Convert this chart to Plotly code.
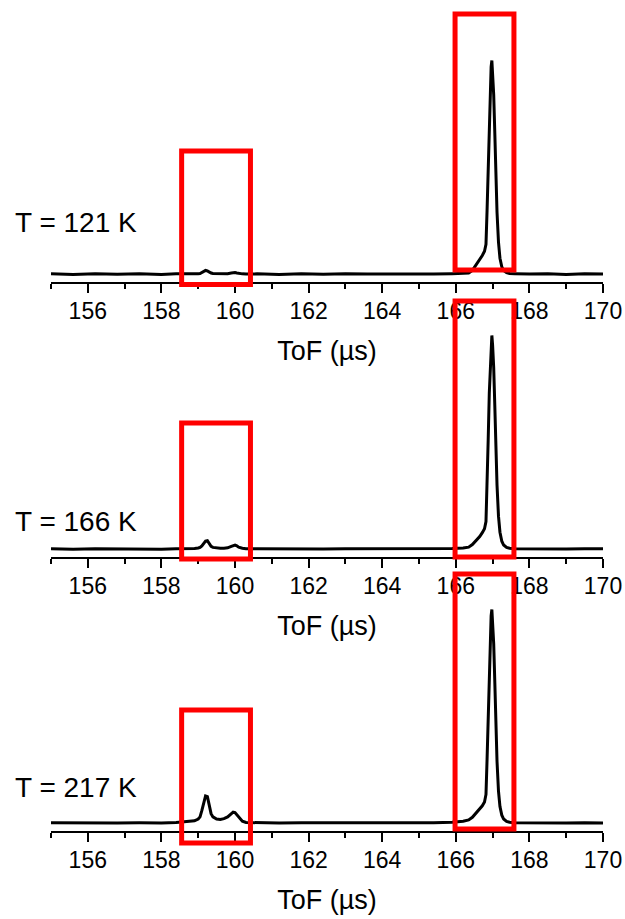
import plotly.graph_objects as go

# Time-of-flight axis (µs), shared by the three spectra
tof_us = [
    155.0, 155.6, 156.2, 156.8, 157.4, 158.0, 158.4, 158.7,
    158.9, 159.0, 159.05, 159.1, 159.15, 159.2, 159.25, 159.3, 159.35, 159.4,
    159.5, 159.6, 159.7, 159.8, 159.9, 159.95, 160.0, 160.05, 160.1, 160.2, 160.3,
    160.6, 161.2, 161.8, 162.4, 163.0, 163.6, 164.2, 164.8, 165.4, 165.9, 166.2,
    166.35, 166.45, 166.55, 166.65, 166.72, 166.78, 166.82, 166.85, 166.88, 166.91,
    166.94, 166.96, 166.98, 167.0, 167.03, 167.06, 167.09, 167.12, 167.16, 167.2,
    167.25, 167.3, 167.38, 167.46, 167.6, 168.0, 168.5, 169.0, 169.5, 170.0,
]

# Normalised intensity at each temperature
intensity_121K = [
    0.002, -0.001, 0.003, 0.000, 0.002, -0.001, 0.002, 0.001,
    0.002, 0.003, 0.004, 0.008, 0.012, 0.018, 0.016, 0.010, 0.006, 0.004,
    0.003, 0.002, 0.002, 0.003, 0.006, 0.008, 0.008, 0.006, 0.004, 0.002, 0.001,
    0.002, -0.001, 0.002, 0.000, 0.003, 0.001, 0.000, 0.002, 0.001, 0.003, 0.004,
    0.006, 0.018, 0.042, 0.068, 0.088, 0.108, 0.140, 0.300, 0.520, 0.740,
    0.900, 0.970, 1.000, 0.950, 0.840, 0.660, 0.450, 0.290, 0.150, 0.075,
    0.035, 0.018, 0.008, 0.004, 0.003, 0.001, 0.002, -0.001, 0.002, 0.001,
]

intensity_166K = [
    0.002, 0.000, 0.003, 0.001, 0.002, 0.000, 0.002, 0.002,
    0.004, 0.006, 0.009, 0.016, 0.026, 0.038, 0.040, 0.026, 0.014, 0.009,
    0.006, 0.005, 0.005, 0.007, 0.014, 0.019, 0.020, 0.016, 0.010, 0.005, 0.003,
    0.002, 0.001, 0.003, 0.001, 0.002, 0.002, 0.001, 0.003, 0.002, 0.004, 0.006,
    0.010, 0.022, 0.040, 0.060, 0.078, 0.096, 0.130, 0.290, 0.510, 0.730,
    0.890, 0.965, 1.000, 0.955, 0.850, 0.670, 0.460, 0.300, 0.155, 0.080,
    0.038, 0.020, 0.009, 0.005, 0.003, 0.002, 0.002, 0.001, 0.003, 0.002,
]

intensity_217K = [
    0.002, 0.001, 0.003, 0.001, 0.002, 0.001, 0.004, 0.008,
    0.012, 0.020, 0.030, 0.060, 0.100, 0.128, 0.125, 0.085, 0.045, 0.030,
    0.020, 0.018, 0.022, 0.030, 0.044, 0.052, 0.050, 0.040, 0.025, 0.010, 0.004,
    0.002, 0.001, 0.003, 0.001, 0.002, 0.002, 0.001, 0.003, 0.003, 0.005, 0.010,
    0.016, 0.028, 0.048, 0.066, 0.082, 0.100, 0.135, 0.300, 0.520, 0.740,
    0.900, 0.970, 1.000, 0.950, 0.840, 0.660, 0.450, 0.290, 0.150, 0.078,
    0.038, 0.020, 0.009, 0.005, 0.003, 0.002, 0.002, 0.001, 0.002, 0.001,
]

temperature_labels = ["T = 121 K", "T = 166 K", "T = 217 K"]
series = [intensity_121K, intensity_166K, intensity_217K]

# Highlighted ToF windows (µs)
minor_window = [158.55, 160.42]
main_window = [165.98, 167.58]

W, H = 625, 919
FONT = "Liberation Sans, Arial, sans-serif"

axis_line_px = [282, 557, 831]      # vertical position of each panel's x axis
panel_height_px = 272
label_center_px = [223, 521, 787]
# vertical extent of highlight boxes, as fractions of each panel's height
minor_box_y = [(-0.009, 0.482), (-0.007, 0.493), (-0.044, 0.445)]
main_box_y = [(0.044, 0.985), (0.0, 0.941), (0.007, 0.945)]

fig = go.Figure()
layout = dict(
    width=W, height=H,
    margin=dict(l=0, r=0, t=0, b=0, autoexpand=False),
    paper_bgcolor="white", plot_bgcolor="white",
    showlegend=False,
    font=dict(family=FONT, color="black"),
    shapes=[], annotations=[],
)

for i, (label, ys) in enumerate(zip(temperature_labels, series)):
    sfx = "" if i == 0 else str(i + 1)
    fig.add_trace(go.Scatter(
        x=tof_us, y=ys, mode="lines",
        line=dict(color="black", width=3),
        xaxis="x" + sfx, yaxis="y" + sfx,
        hoverinfo="skip",
    ))
    bottom = 1 - axis_line_px[i] / H
    top = 1 - (axis_line_px[i] - panel_height_px) / H
    layout["xaxis" + sfx] = dict(
        domain=[51 / W, 603 / W], range=[155, 170], anchor="y" + sfx,
        automargin=False,
        showgrid=False, zeroline=False,
        showline=True, linecolor="black", linewidth=2,
        ticks="outside", ticklen=9, tickwidth=2, tickcolor="black",
        tick0=156, dtick=2, ticklabelstandoff=-2,
        minor=dict(ticks="outside", ticklen=5, tickwidth=2, tickcolor="black",
                   tick0=155, dtick=1),
        tickfont=dict(family=FONT, size=23, color="black"),
        title=dict(text="ToF (µs)", font=dict(family=FONT, size=27, color="black"),
                   standoff=19),
    )
    layout["yaxis" + sfx] = dict(
        domain=[bottom, top], range=[-0.036, 1.236], anchor="x" + sfx,
        automargin=False,
        visible=False, showgrid=False, zeroline=False,
    )
    for (x0, x1), (y0, y1) in ((minor_window, minor_box_y[i]), (main_window, main_box_y[i])):
        layout["shapes"].append(dict(
            type="rect", xref="x" + sfx, yref="y" + sfx + " domain",
            x0=x0, x1=x1, y0=y0, y1=y1,
            line=dict(color="#ff0000", width=5), fillcolor="rgba(0,0,0,0)",
        ))
    layout["annotations"].append(dict(
        text=label, xref="paper", yref="paper",
        x=13 / W, y=1 - label_center_px[i] / H,
        xanchor="left", yanchor="middle", showarrow=False,
        font=dict(family=FONT, size=28, color="black"),
    ))

fig.update_layout(**layout)
fig.write_html("out.html")
